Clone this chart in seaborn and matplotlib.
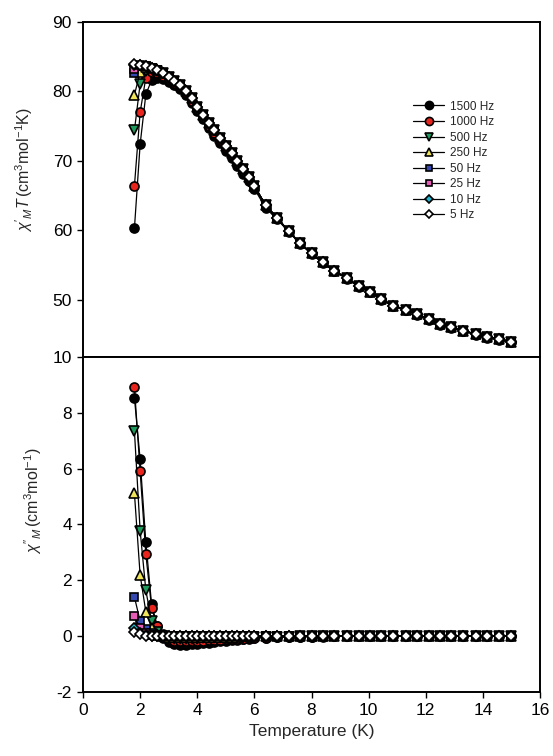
import matplotlib
matplotlib.use("Agg")
import matplotlib.pyplot as plt
import seaborn as sb
import pandas as pd

# temperature grid (K)
temps = [1.8, 2.0, 2.2, 2.4, 2.6, 2.8, 3.0, 3.2, 3.4, 3.6, 3.8, 4.0, 4.2, 4.4, 4.6,
         4.8, 5.0, 5.2, 5.4, 5.6, 5.8, 6.0, 6.4, 6.8, 7.2, 7.6, 8.0, 8.4, 8.8, 9.25,
         9.65, 10.05, 10.45, 10.85, 11.3, 11.7, 12.1, 12.5, 12.9, 13.3, 13.75, 14.15,
         14.55, 15.0]

freqs = ["1500 Hz", "1000 Hz", "500 Hz", "250 Hz", "50 Hz", "25 Hz", "10 Hz", "5 Hz"]
markers = ["o", "o", "v", "^", "s", "s", "D", "D"]
msizes = [6.5, 6.5, 6.5, 6.5, 5.5, 5.5, 5, 5]
face_colors = ["#000000", "#e8241c", "#1e9a5c", "#f0e45a", "#3548b0", "#e45cb4", "#22b4cc", "#ffffff"]

# chi'_M T (cm3 mol-1 K)
chi1_5 = [83.9, 83.8, 83.6, 83.4, 83.1, 82.6, 82.1, 81.5, 80.9, 80.1, 79.0, 77.8, 76.6, 75.4,
          74.4, 73.3, 72.2, 71.1, 70.0, 68.8, 67.7, 66.4, 63.6, 61.8, 59.9, 58.2, 56.7, 55.4,
          54.2, 53.1, 52.0, 51.2, 50.1, 49.2, 48.6, 48.0, 47.2, 46.5, 46.1, 45.6, 45.1, 44.7,
          44.4, 44.0]
chi1_1500 = [60.3, 72.4, 79.6, 81.6, 81.9, 81.8, 81.4, 80.9, 80.3, 79.5, 78.4, 77.2, 76.0,
             74.7, 73.6, 72.6, 71.5, 70.4, 69.3, 68.2, 67.1, 66.0, 63.2, 61.6, 59.8, 58.1,
             56.6, 55.3, 54.1, 53.0, 51.9, 51.1, 50.0, 49.1, 48.5, 47.9, 47.1, 46.4, 46.0,
             45.5, 45.0, 44.6, 44.3, 43.9]
chi1_1000 = [66.4, 77.0, 82.0, 82.8, 82.7, 82.3, 81.8, 81.2, 80.6, 79.8, 78.7, 77.5, 76.3,
             75.1, 74.0, 73.0, 71.9, 70.8, 69.7, 68.5, 67.4, 66.2] + chi1_5[22:]
chi1_500 = [74.4, 81.1, 83.0, 83.2, 83.0] + chi1_5[5:]
chi1_250 = [79.5, 82.8, 83.5, 83.4] + chi1_5[4:]
chi1_50 = [82.6, 83.6, 83.6] + chi1_5[3:]
chi1_25 = [83.3, 83.8] + chi1_5[2:]
chi1_10 = [83.8] + chi1_5[1:]

# chi''_M (cm3 mol-1)
chi2_1500 = [8.54, 6.33, 3.36, 1.15, 0.35, -0.05, -0.22, -0.28, -0.30, -0.30, -0.29, -0.27,
             -0.25, -0.23, -0.21, -0.19, -0.17, -0.15, -0.13, -0.11, -0.09, -0.07, -0.05,
             -0.04, -0.03, -0.03, -0.02, -0.02, -0.01, -0.01, -0.01, 0.0, 0.0, 0.0, 0.0,
             0.0, 0.0, 0.0, 0.0, 0.0, 0.0, 0.0, 0.0, 0.0]
chi2_1000 = [8.91, 5.91, 2.94, 1.02, 0.36, 0.08, -0.10, -0.17, -0.19, -0.19, -0.18, -0.17,
             -0.16, -0.15, -0.14, -0.13, -0.12, -0.11, -0.10, -0.09, -0.08, -0.07, -0.05,
             -0.04, -0.03, -0.02, -0.02, -0.01, -0.01, 0.0, 0.0, 0.0, 0.0, 0.0, 0.0,
             0.0, 0.0, 0.0, 0.0, 0.0, 0.0, 0.0, 0.0, 0.0]
chi2_500 = [7.35, 3.78, 1.64, 0.54, 0.15, 0.0, -0.07, -0.10, -0.10, -0.10, -0.09, -0.09,
            -0.08, -0.08, -0.07, -0.07, -0.06, -0.06, -0.05, -0.05, -0.04, -0.04, -0.03,
            -0.02, -0.02, -0.01, -0.01, 0.0, 0.0, 0.0, 0.0, 0.0, 0.0, 0.0, 0.0,
            0.0, 0.0, 0.0, 0.0, 0.0, 0.0, 0.0, 0.0, 0.0]
chi2_250 = [5.12, 2.19, 0.87, 0.30, 0.08, 0.0, -0.03, -0.04, -0.04, -0.04, -0.04, -0.03,
            -0.03, -0.03, -0.03, -0.02, -0.02, -0.02, -0.02, -0.01, -0.01, -0.01, 0.0,
            0.0, 0.0, 0.0, 0.0, 0.0, 0.0, 0.0, 0.0, 0.0, 0.0, 0.0, 0.0,
            0.0, 0.0, 0.0, 0.0, 0.0, 0.0, 0.0, 0.0, 0.0]
chi2_50 = [1.40, 0.54, 0.24, 0.10, 0.03, 0.01, 0.0, 0.0, 0.0, 0.0, 0.0, 0.0, 0.0, 0.0, 0.0,
           0.0, 0.0, 0.0, 0.0, 0.0, 0.0, 0.0, 0.0, 0.0, 0.0, 0.0, 0.0, 0.0, 0.0, 0.0,
           0.0, 0.0, 0.0, 0.0, 0.0, 0.0, 0.0, 0.0, 0.0, 0.0, 0.0, 0.0, 0.0, 0.0]
chi2_25 = [0.72, 0.28, 0.10, 0.04, 0.01, 0.0, 0.0, 0.0, 0.0, 0.0, 0.0, 0.0, 0.0, 0.0, 0.0,
           0.0, 0.0, 0.0, 0.0, 0.0, 0.0, 0.0, 0.0, 0.0, 0.0, 0.0, 0.0, 0.0, 0.0, 0.0,
           0.0, 0.0, 0.0, 0.0, 0.0, 0.0, 0.0, 0.0, 0.0, 0.0, 0.0, 0.0, 0.0, 0.0]
chi2_10 = [0.30, 0.12, 0.05, 0.02, 0.0, 0.0, 0.0, 0.0, 0.0, 0.0, 0.0, 0.0, 0.0, 0.0, 0.0,
           0.0, 0.0, 0.0, 0.0, 0.0, 0.0, 0.0, 0.0, 0.0, 0.0, 0.0, 0.0, 0.0, 0.0, 0.0,
           0.0, 0.0, 0.0, 0.0, 0.0, 0.0, 0.0, 0.0, 0.0, 0.0, 0.0, 0.0, 0.0, 0.0]
chi2_5 = [0.15, 0.06, 0.02, 0.01, 0.0, 0.0, 0.0, 0.0, 0.0, 0.0, 0.0, 0.0, 0.0, 0.0, 0.0,
          0.0, 0.0, 0.0, 0.0, 0.0, 0.0, 0.0, 0.0, 0.0, 0.0, 0.0, 0.0, 0.0, 0.0, 0.0,
          0.0, 0.0, 0.0, 0.0, 0.0, 0.0, 0.0, 0.0, 0.0, 0.0, 0.0, 0.0, 0.0, 0.0]

chi1 = [chi1_1500, chi1_1000, chi1_500, chi1_250, chi1_50, chi1_25, chi1_10, chi1_5]
chi2 = [chi2_1500, chi2_1000, chi2_500, chi2_250, chi2_50, chi2_25, chi2_10, chi2_5]

sb.set_style("ticks")
plt.rcParams['font.family'] = ['Liberation Sans', 'DejaVu Sans']
plt.rcParams['mathtext.fontset'] = 'custom'
plt.rcParams['mathtext.rm'] = 'Liberation Sans'
plt.rcParams['mathtext.it'] = 'Liberation Sans:italic'
plt.rcParams['axes.unicode_minus'] = False

fig = plt.figure(figsize=(5.53, 7.56), dpi=100)
ax1 = fig.add_axes([0.1501, 0.5278, 0.8264, 0.4431])
ax2 = fig.add_axes([0.1501, 0.0847, 0.8264, 0.4431])

for i in range(len(freqs)):
    df1 = pd.DataFrame({"T": temps, "v": chi1[i]})
    df2 = pd.DataFrame({"T": temps, "v": chi2[i]})
    for ax, df, lab in ((ax1, df1, freqs[i]), (ax2, df2, None)):
        sb.lineplot(data=df, x="T", y="v", ax=ax, color="black", linewidth=0.9,
                    marker=markers[i], markersize=msizes[i],
                    markerfacecolor=face_colors[i], markeredgecolor="black",
                    markeredgewidth=1.2, label=lab, sort=False)

for ax in (ax1, ax2):
    ax.set_xlim(0, 16)
    for s in ax.spines.values():
        s.set_linewidth(1.4)
        s.set_color("black")
    ax.tick_params(axis="both", labelsize=12.5, direction="out", length=4.5, width=1,
                   colors="black")

ax1.set_ylim(41.8, 90)
ax1.set_yticks([50, 60, 70, 80, 90])
ax1.set_xticks([])
ax1.set_xlabel("")
ax1.set_ylabel(r"$\chi'_{M}T\,(\mathrm{cm^{3}mol^{-1}K})$", fontsize=11.5)
ax1.yaxis.set_label_coords(-0.105, 0.56)

ax2.set_ylim(-2, 10)
ax2.set_yticks([-2, 0, 2, 4, 6, 8, 10])
ax2.set_xticks([0, 2, 4, 6, 8, 10, 12, 14, 16])
ax2.set_xlabel("Temperature (K)", fontsize=12.5)
ax2.set_ylabel(r"$\chi''_{M}\,(\mathrm{cm^{3}mol^{-1}})$", fontsize=11.5)
ax2.yaxis.set_label_coords(-0.085, 0.57)
if ax2.get_legend() is not None:
    ax2.get_legend().remove()

ax1.legend(loc="upper left", bbox_to_anchor=(0.705, 0.79), frameon=False, fontsize=8.5,
           handlelength=2.6, handletextpad=0.5, labelspacing=0.3, borderpad=0.2,
           markerscale=0.9)

plt.savefig("out.png", dpi=100)
